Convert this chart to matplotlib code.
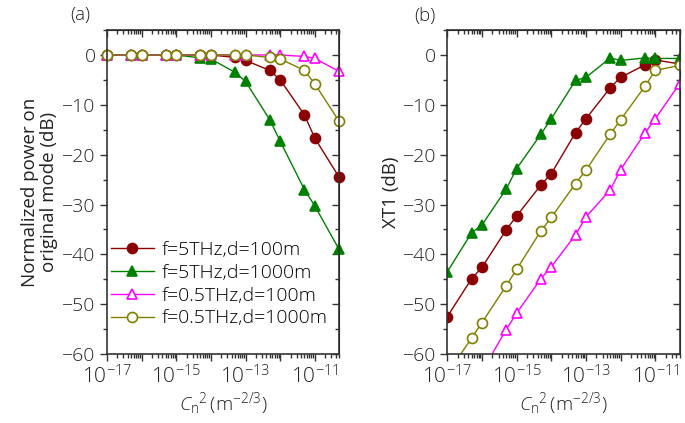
import numpy as np
import matplotlib
matplotlib.use("Agg")
import matplotlib.pyplot as plt
from matplotlib.ticker import FixedLocator, LogLocator, NullFormatter, MultipleLocator

plt.rcParams['font.family'] = ['Open Sans', 'DejaVu Sans']
plt.rcParams['font.weight'] = 'light'
plt.rcParams['mathtext.fontset'] = 'custom'
plt.rcParams['mathtext.rm'] = 'Open Sans:light'
plt.rcParams['mathtext.it'] = 'Open Sans:italic:light'

cn2 = [1e-17, 5e-17, 1e-16, 5e-16, 1e-15, 5e-15, 1e-14, 5e-14,
       1e-13, 5e-13, 1e-12, 5e-12, 1e-11, 5e-11]

# (a) normalized power on original mode (dB)
pw_5thz_100 = [0, 0, 0, 0, 0, 0, 0, -0.5, -1.1, -3.1, -5.0, -12.0, -16.7, -24.5]
pw_5thz_1000 = [0, 0, 0, 0, 0, -0.6, -0.8, -3.5, -5.3, -13.0, -17.3, -27.0, -30.3, -39.0]
pw_05thz_100 = [0, 0, 0, 0, 0, 0, 0, 0, 0, 0, 0, -0.3, -0.7, -3.3]
pw_05thz_1000 = [0, 0, 0, 0, 0, 0, 0, 0, 0, -0.5, -0.8, -3.1, -5.8, -13.3]

# (b) XT1 (dB)
xt_5thz_100 = [-52.5, -44.9, -42.6, -35.1, -32.3, -26.1, -23.8, -15.6,
               -12.8, -6.6, -4.5, -2.0, -1.0, -1.8]
xt_5thz_1000 = [-43.5, -35.7, -34.1, -26.9, -22.8, -15.9, -12.8, -5.1,
                -4.5, -0.6, -1.1, -0.6, -0.7, -0.7]
xt_05thz_100 = [np.nan, np.nan, -63.5, -55.1, -51.8, -44.9, -42.5, -36.1,
                -32.5, -27.1, -23.0, -15.7, -12.8, -5.8]
xt_05thz_1000 = [-64.0, -56.8, -53.7, -46.3, -43.0, -35.3, -32.6, -25.8,
                 -23.1, -15.9, -13.0, -6.3, -3.1, -2.1]

labels = ['f=5THz,d=100m', 'f=5THz,d=1000m', 'f=0.5THz,d=100m', 'f=0.5THz,d=1000m']
colors = ['#8b0000', '#008000', '#ff00ff', '#808000']
markers = ['o', '^', '^', 'o']
filled = [True, True, False, False]

fig = plt.figure(figsize=(6.85, 4.23), dpi=100)
ax1 = fig.add_axes([0.156, 0.163, 0.339, 0.766])
ax2 = fig.add_axes([0.653, 0.163, 0.339, 0.766])

series_a = [pw_5thz_100, pw_5thz_1000, pw_05thz_100, pw_05thz_1000]
series_b = [xt_5thz_100, xt_5thz_1000, xt_05thz_100, xt_05thz_1000]

decades = [10.0 ** e for e in range(-17, -10)]

for ax, series in [(ax1, series_a), (ax2, series_b)]:
    for y, lab, c, m, f in zip(series, labels, colors, markers, filled):
        ax.plot(cn2, y, color=c, lw=1.0, marker=m, ms=7.2,
                mfc=c if f else 'white', mec=c, mew=1.2, label=lab,
                clip_on=False if ax is ax1 else True)
    ax.set_xscale('log')
    ax.set_xlim(1e-17, 5e-11)
    ax.set_ylim(-60, 5)
    ax.xaxis.set_major_locator(FixedLocator(decades))
    ax.set_xticklabels([r'$10^{%d}$' % e if e % 2 else '' for e in range(-17, -10)])
    ax.xaxis.set_minor_locator(LogLocator(base=10, subs=np.arange(2, 10), numticks=20))
    ax.xaxis.set_minor_formatter(NullFormatter())
    ax.yaxis.set_major_locator(MultipleLocator(10))
    ax.yaxis.set_minor_locator(MultipleLocator(5))
    ax.tick_params(which='both', direction='out', color='#333333',
                   width=1.0, labelcolor='#222222')
    ax.tick_params(axis='x', labelsize=15, pad=3)
    ax.tick_params(axis='y', labelsize=14, pad=3)
    ax.tick_params(which='major', length=5)
    ax.tick_params(which='minor', length=3)
    for s in ax.spines.values():
        s.set_color('#333333')
        s.set_linewidth(1.2)
    top = ax.secondary_xaxis('top')
    top.xaxis.set_major_locator(FixedLocator(decades))
    top.xaxis.set_minor_locator(LogLocator(base=10, subs=np.arange(2, 10), numticks=20))
    top.xaxis.set_major_formatter(NullFormatter())
    top.xaxis.set_minor_formatter(NullFormatter())
    top.tick_params(which='both', direction='in', color='#333333', width=1.0)
    top.tick_params(which='major', length=5)
    top.tick_params(which='minor', length=3)
    right = ax.secondary_yaxis('right')
    right.yaxis.set_major_locator(MultipleLocator(10))
    right.yaxis.set_minor_locator(MultipleLocator(5))
    right.yaxis.set_major_formatter(NullFormatter())
    right.tick_params(which='both', direction='in', color='#333333', width=1.0)
    right.tick_params(which='major', length=5)
    right.tick_params(which='minor', length=3)
    ax.set_xlabel(r'$C_{\mathrm{n}}{}^{2}\,(\mathrm{m}^{-2/3})$', fontsize=14,
                  color='#222222', labelpad=1)

ax1.set_ylabel('Normalized power on\noriginal mode (dB)', fontsize=13.5,
               color='#222222', linespacing=1.1, labelpad=3)
ax2.set_ylabel('XT1 (dB)', fontsize=13.5, color='#222222', labelpad=2)

ax1.legend(loc='lower left', frameon=False, fontsize=14, handlelength=2.2,
           handletextpad=0.4, labelspacing=0.25, borderaxespad=0.0,
           borderpad=0.2, bbox_to_anchor=(0.0, 0.07))

fig.text(0.117, 0.965, '(a)', fontsize=13.5, ha='center', va='center', color='#222222')
fig.text(0.621, 0.962, '(b)', fontsize=13.5, ha='center', va='center', color='#222222')

fig.savefig('out.png', dpi=100)
